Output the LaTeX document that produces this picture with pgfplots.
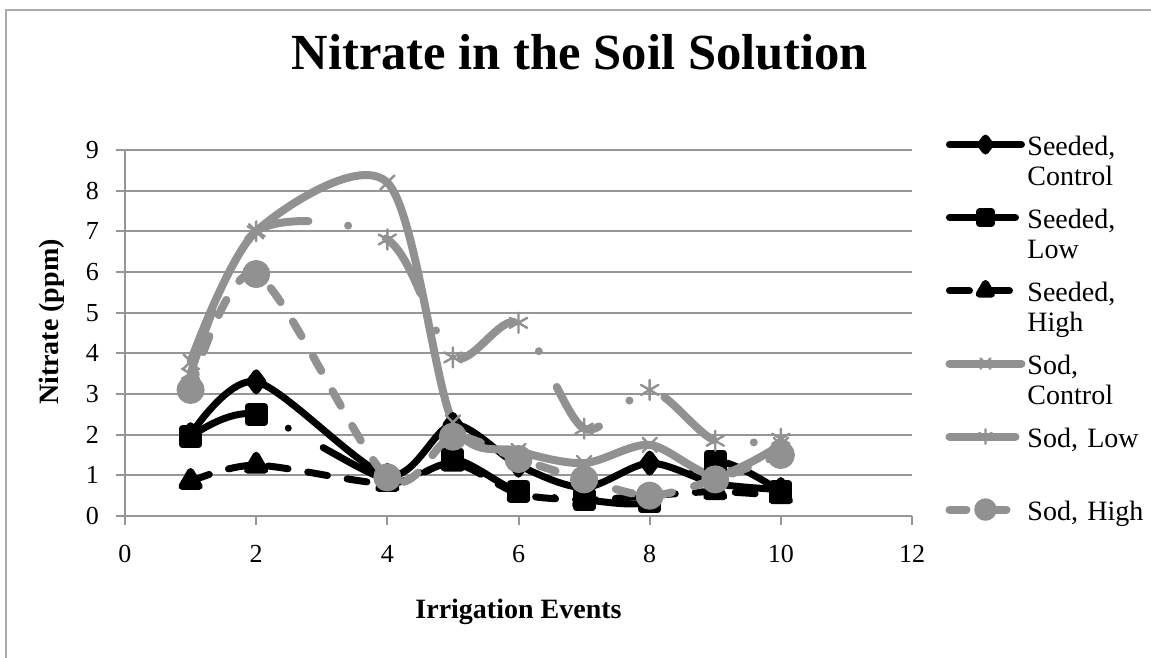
\documentclass[border=0pt]{standalone}
\usepackage{fontspec}
\setmainfont{Liberation Serif}
\usepackage{pgfplots}
\pgfplotsset{compat=1.18}
\definecolor{sodgray}{RGB}{145,145,145}
\definecolor{gridgray}{RGB}{150,150,150}
\begin{document}
\begin{tikzpicture}
\useasboundingbox (-62.5pt,-71pt) rectangle (513pt,258pt);
\draw[gridgray!80, line width=1pt] (-59.5pt,-80pt) -- (-59.5pt,253pt) -- (520pt,253pt);
\begin{axis}[
  scale only axis, width=393.5pt, height=183pt,
  xmin=0, xmax=12, ymin=0, ymax=9,
  xtick={0,2,...,12}, ytick={0,1,...,9},
  axis x line*=bottom, axis y line*=left,
  ymajorgrids, grid style={gridgray, line width=1pt},
  tick align=outside, major tick length=4.5pt,
  tick style={gridgray, line width=1pt},
  axis line style={gridgray, line width=1pt},
  /pgf/number format/assume math mode=true,
  tick label style={font=\fontsize{13}{15}\selectfont},
  yticklabel style={xshift=-5pt},
  xticklabel style={yshift=-6.5pt},
  title={\bfseries Nitrate in the Soil Solution},
  title style={at={(axis description cs:0.578,1.186)}, anchor=base, font=\fontsize{25.3}{28}\selectfont},
  xlabel={\bfseries Irrigation Events},
  xlabel style={at={(axis description cs:0.5,-0.2814)}, anchor=base, font=\fontsize{14}{16}\selectfont},
  ylabel={\bfseries Nitrate (ppm)},
  ylabel style={at={(axis description cs:-0.0928,0.53)}, anchor=center, font=\fontsize{14}{16}\selectfont},
  legend image code/.code={\draw[mark repeat=2,mark phase=2,#1, every mark/.append style={scale=0.72}] plot coordinates {(0pt,5.5pt)(18pt,5.5pt)(36pt,5.5pt)};},
  legend style={at={(axis description cs:1.042,1.046)}, anchor=north west, draw=none, fill=none,
    inner sep=0pt, row sep=2.5pt, column sep=0pt,
    cells={anchor=base west},
    nodes={inner sep=1pt, text width=5.8em, align=left, text height=10pt, text depth=22pt},
    font=\fontsize{14}{15}\selectfont},
  every axis plot/.append style={line cap=round, line join=round},
]
\addplot[black, line width=3.5pt, smooth, mark=diamond*, mark size=4.5pt, mark options={solid}]
  coordinates {(1,2.0) (2,3.3) (4,1.0) (5,2.25) (6,1.25) (7,0.7) (8,1.3) (9,0.8) (10,0.65)};
\addlegendentry{Seeded,\\Control}
\addplot[black, line width=3.5pt, smooth, dash pattern=on 33pt off 20pt on 0pt off 20pt, mark=square*, mark size=4pt, mark options={solid}]
  coordinates {(1,1.95) (2,2.5) (4,0.9) (5,1.4) (6,0.6) (7,0.4) (8,0.35) (9,1.35) (10,0.6)};
\addlegendentry{Seeded,\\Low}
\addplot[black, line width=3.5pt, smooth, dash pattern=on 10pt off 10pt, mark=triangle*, mark size=5pt, mark options={solid}]
  coordinates {(1,0.85) (2,1.25) (4,0.8) (5,1.3) (6,0.55) (7,0.4) (8,0.5) (9,0.6) (10,0.5)};
\addlegendentry{Seeded,\\High}
\addplot[sodgray, line width=4pt, smooth, mark=x, mark size=5pt, mark options={solid, line width=1.2pt}]
  coordinates {(1,3.8) (2,7.0) (4,8.2) (5,2.3) (6,1.6) (7,1.3) (8,1.75) (9,1.0) (10,1.75)};
\addlegendentry{Sod,\\Control}
\addplot[sodgray, line width=4pt, smooth, dash pattern=on 33pt off 20pt on 0pt off 20pt, mark=asterisk, mark size=5pt, mark options={solid, line width=1.2pt}]
  coordinates {(1,3.5) (2,7.0) (4,6.8) (5,3.9) (6,4.75) (7,2.15) (8,3.1) (9,1.85) (10,1.9)};
\addlegendentry{Sod, Low}
\addplot[sodgray, line width=4pt, smooth, dash pattern=on 8.5pt off 11.5pt, mark=*, mark size=5pt, mark options={solid}]
  coordinates {(1,3.1) (2,5.95) (4,0.95) (5,1.95) (6,1.4) (7,0.9) (8,0.5) (9,0.9) (10,1.5)};
\addlegendentry{Sod, High}
\end{axis}
\end{tikzpicture}
\end{document}
